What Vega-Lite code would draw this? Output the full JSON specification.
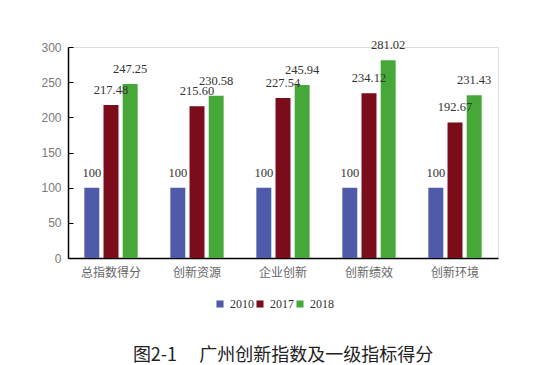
{
  "$schema": "https://vega.github.io/schema/vega-lite/v6.json",
  "autosize": "none",
  "width": 430,
  "height": 211,
  "padding": {"left": 68, "top": 47, "right": 52, "bottom": 107},
  "background": "white",
  "title": {
    "text": "图2-1\u3000\u00a0广州创新指数及一级指标得分",
    "orient": "bottom",
    "anchor": "middle",
    "offset": 37,
    "font": "Noto Sans CJK SC",
    "fontSize": 18,
    "fontWeight": "normal",
    "color": "#222222"
  },
  "data": {
    "values": [
      {"category": "总指数得分", "year": "2010", "value": 100, "label": "100"},
      {"category": "总指数得分", "year": "2017", "value": 217.48, "label": "217.48"},
      {"category": "总指数得分", "year": "2018", "value": 247.25, "label": "247.25"},
      {"category": "创新资源", "year": "2010", "value": 100, "label": "100"},
      {"category": "创新资源", "year": "2017", "value": 215.60, "label": "215.60"},
      {"category": "创新资源", "year": "2018", "value": 230.58, "label": "230.58"},
      {"category": "企业创新", "year": "2010", "value": 100, "label": "100"},
      {"category": "企业创新", "year": "2017", "value": 227.54, "label": "227.54"},
      {"category": "企业创新", "year": "2018", "value": 245.94, "label": "245.94"},
      {"category": "创新绩效", "year": "2010", "value": 100, "label": "100"},
      {"category": "创新绩效", "year": "2017", "value": 234.12, "label": "234.12"},
      {"category": "创新绩效", "year": "2018", "value": 281.02, "label": "281.02"},
      {"category": "创新环境", "year": "2010", "value": 100, "label": "100"},
      {"category": "创新环境", "year": "2017", "value": 192.67, "label": "192.67"},
      {"category": "创新环境", "year": "2018", "value": 231.43, "label": "231.43"}
    ]
  },
  "encoding": {
    "x": {
      "field": "category",
      "type": "nominal",
      "sort": null,
      "scale": {"paddingInner": 0.38, "paddingOuter": 0.19},
      "axis": {
        "title": null,
        "labelAngle": 0,
        "ticks": false,
        "domainColor": "#000000",
        "domainWidth": 1.5,
        "labelFont": "Noto Sans CJK SC",
        "labelFontSize": 12,
        "labelColor": "#666666",
        "labelPadding": 9
      }
    },
    "xOffset": {
      "field": "year",
      "type": "nominal",
      "scale": {"paddingInner": 0.22}
    },
    "y": {
      "field": "value",
      "type": "quantitative",
      "scale": {"domain": [0, 300], "nice": false},
      "axis": {
        "title": null,
        "values": [0, 50, 100, 150, 200, 250, 300],
        "grid": false,
        "domainColor": "#000000",
        "domainWidth": 1.5,
        "tickColor": "#000000",
        "tickSize": -5,
        "labelFont": "Liberation Sans",
        "labelFontSize": 12,
        "labelColor": "#7a7a7a",
        "labelPadding": 12
      }
    }
  },
  "layer": [
    {
      "mark": {"type": "bar"},
      "encoding": {
        "color": {
          "field": "year",
          "type": "nominal",
          "scale": {"domain": ["2010", "2017", "2018"], "range": ["#4F5AA8", "#7B0C1A", "#47A83A"]},
          "legend": {
            "title": null,
            "orient": "none",
            "direction": "horizontal",
            "legendX": 146,
            "legendY": 251,
            "symbolType": "square",
            "symbolSize": 50,
            "symbolStrokeWidth": 0,
            "labelFont": "Liberation Serif",
            "labelFontSize": 12,
            "labelColor": "#333333",
            "labelOffset": 4,
            "columnPadding": 0
          }
        }
      }
    },
    {
      "mark": {"type": "text", "baseline": "middle", "dy": -15, "font": "Liberation Serif", "fontSize": 12.5, "fill": "#333333"},
      "encoding": {
        "text": {"field": "label", "type": "nominal"}
      }
    }
  ]
}
